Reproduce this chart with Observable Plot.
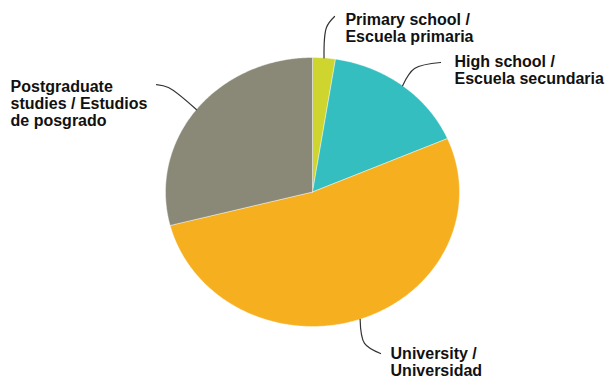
<!DOCTYPE html>
<html>
<head>
<meta charset="utf-8">
<script src="https://cdn.jsdelivr.net/npm/d3@7"></script>
<script src="https://cdn.jsdelivr.net/npm/@observablehq/plot@0.6"></script>
<style>
  html, body { margin: 0; padding: 0; background: #fff; }
</style>
</head>
<body>
<div id="chart"></div>
<script>
// ---- data ----
const categories = ["Primary school", "High school", "University", "Postgraduate"];
const labels = [
  "Primary school /\nEscuela primaria",
  "High school /\nEscuela secundaria",
  "University /\nUniversidad",
  "Postgraduate\nstudies / Estudios\nde posgrado"
];
const values = [2.5, 16, 52.5, 29];
const colors = ["#CED52E", "#35BEC0", "#F6AF1F", "#8A8978"];
// label anchors (in pie radius units) and leader-line bend/end points
const labelX = [0.224, 0.966, 0.531, -2.054];
const labelY = [1.219, 0.907, -1.262, 0.658];
const bendX = [0.095, 0.694, 0.354, -0.980];
const bendY = [1.223, 0.918, -1.126, 0.777];
const endX = [0.150, 0.871, 0.463, -1.061];
const endY = [1.305, 0.963, -1.201, 0.799];

// ---- geometry via d3.pie ----
const arcs = d3.pie().sort(null).value(d => d)(values);
const slices = arcs.map((a, i) => {
  const pts = [{x: 0, y: 0}];
  const n = Math.max(2, Math.ceil((a.endAngle - a.startAngle) / (Math.PI / 360)));
  for (let k = 0; k <= n; k++) {
    const t = a.startAngle + (a.endAngle - a.startAngle) * k / n;
    pts.push({x: Math.sin(t), y: Math.cos(t)});
  }
  pts.push({x: 0, y: 0});
  return pts;
});
const leaders = arcs.map((a, i) => {
  const m = (a.startAngle + a.endAngle) / 2;
  return [
    {x: Math.sin(m), y: Math.cos(m)},
    {x: bendX[i], y: bendY[i]},
    {x: endX[i], y: endY[i]}
  ];
});
const labelData = labels.map((l, i) => ({label: l, x: labelX[i], y: labelY[i]}));

const chart = Plot.plot({
  width: 609,
  height: 379,
  marginLeft: 165,
  marginRight: 150,
  marginTop: 57,
  marginBottom: 53,
  x: {domain: [-1, 1], axis: null},
  y: {domain: [-1, 1], axis: null},
  style: {fontFamily: "'Liberation Sans', Arial, sans-serif", background: "#fff"},
  marks: [
    ...slices.map((pts, i) => Plot.line(pts, {x: "x", y: "y", fill: colors[i], stroke: "#fff", strokeWidth: 0.6, strokeOpacity: 0.7})),
    ...leaders.map(pts => Plot.line(pts, {x: "x", y: "y", curve: "catmull-rom", stroke: "#333", strokeWidth: 1.2})),
    Plot.text(labelData, {
      x: "x", y: "y", text: "label",
      textAnchor: "start", lineAnchor: "middle", lineHeight: 1.06,
      fontSize: 16, fontWeight: "bold", fill: "#111"
    })
  ]
});
document.getElementById("chart").appendChild(chart);
</script>
</body>
</html>
